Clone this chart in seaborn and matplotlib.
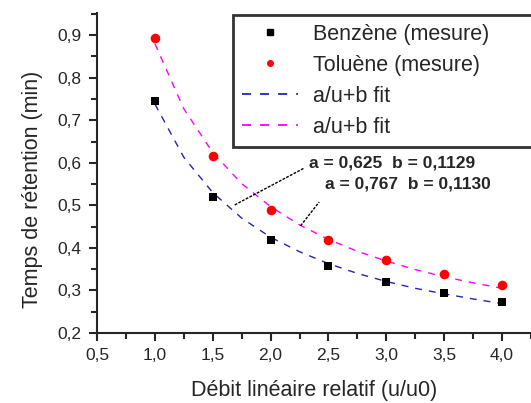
import matplotlib
matplotlib.use("Agg")
import matplotlib.pyplot as plt
import seaborn as sns
import pandas as pd
from matplotlib.ticker import MultipleLocator, FixedLocator, FixedFormatter
from matplotlib.lines import Line2D

sns.set_style("ticks")
plt.rcParams['font.family'] = ['Liberation Sans', 'DejaVu Sans']

# mesures
debit = [1.0, 1.5, 2.0, 2.5, 3.0, 3.5, 4.0]
benzene = [0.745, 0.520, 0.418, 0.358, 0.320, 0.293, 0.273]
toluene = [0.893, 0.616, 0.489, 0.419, 0.372, 0.339, 0.313]

# courbes ajustees a/u+b
debit_fit = [1.0, 1.25, 1.5, 1.75, 2.0, 2.25, 2.5, 2.75, 3.0, 3.25, 3.5, 3.75, 4.0]
benzene_fit = [0.738, 0.613, 0.530, 0.470, 0.425, 0.391, 0.363, 0.340, 0.321, 0.305, 0.292, 0.280, 0.269]
toluene_fit = [0.880, 0.727, 0.624, 0.551, 0.497, 0.454, 0.420, 0.392, 0.369, 0.349, 0.332, 0.318, 0.305]

xticks = [0.5, 1.0, 1.5, 2.0, 2.5, 3.0, 3.5, 4.0]
xtick_labels = ["0,5", "1,0", "1,5", "2,0", "2,5", "3,0", "3,5", "4,0"]
yticks = [0.2, 0.3, 0.4, 0.5, 0.6, 0.7, 0.8, 0.9]
ytick_labels = ["0,2", "0,3", "0,4", "0,5", "0,6", "0,7", "0,8", "0,9"]

ann_benz = "a = 0,625  b = 0,1129"
ann_tol = "a = 0,767  b = 0,1130"

mes = pd.DataFrame({"u": debit, "benz": benzene, "tol": toluene})
fit = pd.DataFrame({"u": debit_fit, "benz": benzene_fit, "tol": toluene_fit})

blue = "#2424b4"
magenta = "#ff00ff"

fig = plt.figure(figsize=(5.31, 4.03), dpi=100)
ax = fig.add_axes([0.1827, 0.1737, 0.8173, 0.794])

sns.lineplot(data=fit, x="u", y="benz", ax=ax, color=blue, lw=1,
             linestyle=(0, (5, 5)))
sns.lineplot(data=fit, x="u", y="tol", ax=ax, color=magenta, lw=1,
             linestyle=(0, (5, 5)))
sns.scatterplot(data=mes, x="u", y="benz", ax=ax, marker="s", color="black",
                s=40, edgecolor="black", linewidth=0, zorder=3)
sns.scatterplot(data=mes, x="u", y="tol", ax=ax, marker="o", color="red",
                s=48, edgecolor="red", linewidth=0, zorder=3)

ax.set_xlim(0.5, 4.25)
ax.set_ylim(0.2, 0.952)
ax.xaxis.set_major_locator(FixedLocator(xticks))
ax.xaxis.set_major_formatter(FixedFormatter(xtick_labels))
ax.yaxis.set_major_locator(FixedLocator(yticks))
ax.yaxis.set_major_formatter(FixedFormatter(ytick_labels))
ax.xaxis.set_minor_locator(MultipleLocator(0.25))
ax.yaxis.set_minor_locator(MultipleLocator(0.05))
ax.tick_params(which="major", direction="out", length=6, width=1.5, labelsize=12.5, pad=5)
ax.tick_params(which="minor", direction="out", length=4, width=1.5)
for s in ["left", "bottom"]:
    ax.spines[s].set_linewidth(1.5)
sns.despine(ax=ax)

ax.set_xlabel("Débit linéaire relatif (u/u0)", fontsize=15.5, labelpad=12)
ax.set_ylabel("Temps de rétention (min)", fontsize=15.5)
ax.yaxis.set_label_coords(-0.124, 0.45)

# annotations
ax.plot([1.69, 2.293], [0.501, 0.588], color="black", lw=1, linestyle=(0, (2, 1)))
ax.plot([2.259, 2.42], [0.452, 0.508], color="black", lw=1, linestyle=(0, (2, 1)))
ax.text(2.33, 0.600, ann_benz, fontsize=12.5, fontweight="bold", va="center", ha="left")
ax.text(2.47, 0.549, ann_tol, fontsize=12.5, fontweight="bold", va="center", ha="left")

handles = [
    Line2D([], [], marker="s", color="black", linestyle="none", markersize=4),
    Line2D([], [], marker="o", color="red", linestyle="none", markersize=4),
    Line2D([], [], color=blue, lw=1.3, linestyle=(0, (5, 5))),
    Line2D([], [], color=magenta, lw=1.3, linestyle=(0, (5, 5))),
]
labels = ["Benzène (mesure)", "Toluène (mesure)", "a/u+b fit", "a/u+b fit"]
leg = fig.legend(handles, labels, loc="upper left", bbox_to_anchor=(0.439, 0.0, 0.64, 0.963),
                 bbox_transform=fig.transFigure, mode="expand", fontsize=15.5, frameon=True,
                 fancybox=False, edgecolor="black", borderaxespad=0,
                 handlelength=2.6, handletextpad=0.7, labelspacing=0.46,
                 borderpad=0.42)
leg.get_frame().set_linewidth(2)

fig.savefig("out.png", dpi=100)
